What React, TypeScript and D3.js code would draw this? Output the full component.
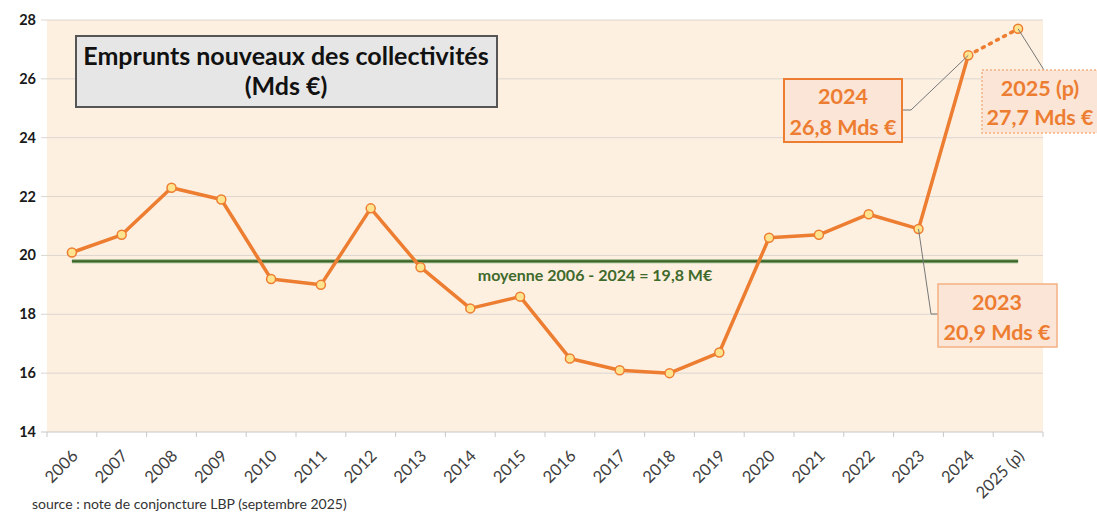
import React from 'react';
import * as d3 from 'd3';

const years = ['2006', '2007', '2008', '2009', '2010', '2011', '2012', '2013', '2014', '2015',
  '2016', '2017', '2018', '2019', '2020', '2021', '2022', '2023', '2024', '2025 (p)'];
const emprunts = [20.1, 20.7, 22.3, 21.9, 19.2, 19.0, 21.6, 19.6, 18.2, 18.6,
  16.5, 16.1, 16.0, 16.7, 20.6, 20.7, 21.4, 20.9, 26.8, 27.7];
const moyenne = 19.8;
const yTicks = [14, 16, 18, 20, 22, 24, 26, 28];

const W = 1097, H = 515;
const left = 47, right = 1043, top = 20, bottom = 432;
const orange = '#ed7d31';
const font = 'Lato, "Open Sans", sans-serif';

export default function App() {
  const x = d3.scaleBand().domain(years).range([left, right]);
  const y = d3.scaleLinear().domain([14, 28]).range([bottom, top]);
  const cx = (i: number) => (x(years[i]) as number) + x.bandwidth() / 2;

  const pts: [number, number][] = emprunts.map((v, i) => [cx(i), y(v)]);
  const line = d3.line();
  const solid = line(pts.slice(0, 19));
  const dotted = line(pts.slice(18));

  const p23 = pts[17], p24 = pts[18], p25 = pts[19];

  return (
    <svg width={W} height={H} style={{ position: 'absolute', left: 0, top: 0, background: '#fff' }}
      fontFamily={font}>
      <rect x={left} y={top} width={right - left} height={bottom - top} fill="#fdf0e1" />
      {yTicks.map(t => (
        <g key={t}>
          <line x1={left - 6} x2={right} y1={y(t)} y2={y(t)} stroke={t === 14 ? '#c8c8c8' : '#dcd6d0'} strokeWidth={1} />
          <text x={36} y={y(t) + 5} textAnchor="end" fontSize={14.5} fontWeight="bold" fill="#1a1a1a">{t}</text>
        </g>
      ))}
      {years.map((yr) => (
        <line key={yr} x1={x(yr) as number} x2={x(yr) as number} y1={bottom} y2={bottom + 5} stroke="#c8c8c8" />
      ))}
      <line x1={right} x2={right} y1={bottom} y2={bottom + 5} stroke="#c8c8c8" />
      {years.map((yr, i) => (
        <text key={yr} transform={`translate(${cx(i) + 7},${bottom + 25}) rotate(-45)`}
          textAnchor="end" fontSize={16.5} fill="#404040">{yr}</text>
      ))}

      {/* moyenne */}
      <line x1={cx(0)} x2={cx(19)} y1={y(moyenne)} y2={y(moyenne)} stroke="#8fae7d" strokeWidth={4} />
      <line x1={cx(0)} x2={cx(19)} y1={y(moyenne)} y2={y(moyenne)} stroke="#3b6528" strokeWidth={2} />
      <text x={595} y={y(moyenne) + 20} textAnchor="middle" fontSize={16} fontWeight="bold" fill="#3f6a2b">
        moyenne 2006 - 2024 = 19,8 M€
      </text>

      {/* series */}
      <path d={solid ?? ''} fill="none" stroke={orange} strokeWidth={3.5} strokeLinejoin="round" />
      <path d={dotted ?? ''} fill="none" stroke={orange} strokeWidth={3.5} strokeDasharray="2 6" strokeLinecap="round" />
      {pts.map(([px, py], i) => (
        <circle key={i} cx={px} cy={py} r={4.5} fill="#ffe48f" stroke={orange} strokeWidth={1.5} />
      ))}

      {/* title */}
      <rect x={76} y={36} width={421} height={71} fill="#e6e6e6" stroke="#555" strokeWidth={2} />
      <text x={286} y={65} textAnchor="middle" fontSize={25} fontWeight="bold" fill="#111">Emprunts nouveaux des collectivités</text>
      <text x={286} y={95} textAnchor="middle" fontSize={25} fontWeight="bold" fill="#111">(Mds €)</text>

      {/* callouts */}
      <polyline points={`${p24[0]},${p24[1]} 911,110 903,110`} fill="none" stroke="#777" strokeWidth={1} />
      <rect x={784} y={79} width={118} height={63} fill="#fbe5d6" stroke={orange} strokeWidth={2} />
      <text x={843} y={104} textAnchor="middle" fontSize={21.5} fontWeight="bold" fill={orange}>2024</text>
      <text x={843} y={135} textAnchor="middle" fontSize={21.5} fontWeight="bold" fill={orange}>26,8 Mds €</text>

      <line x1={p25[0]} y1={p25[1]} x2={1044} y2={70} stroke="#777" strokeWidth={1} />
      <rect x={982} y={70} width={125} height={63} fill="#fbe5d6" stroke="#f4b183" strokeWidth={1.5} strokeDasharray="2 2" />
      <text x={1040} y={96} textAnchor="middle" fontSize={21.5} fontWeight="bold" fill={orange}>2025 (p)</text>
      <text x={1040} y={125} textAnchor="middle" fontSize={21.5} fontWeight="bold" fill={orange}>27,7 Mds €</text>

      <polyline points={`${p23[0]},${p23[1]} 931,314 938,314`} fill="none" stroke="#777" strokeWidth={1} />
      <rect x={938} y={284} width={119} height={63} fill="#fbe5d6" stroke="#f4b183" strokeWidth={1.5} />
      <text x={997} y={310} textAnchor="middle" fontSize={21.5} fontWeight="bold" fill={orange}>2023</text>
      <text x={997} y={340} textAnchor="middle" fontSize={21.5} fontWeight="bold" fill={orange}>20,9 Mds €</text>

      <text x={32} y={509} fontSize={14} fill="#333">source : note de conjoncture LBP (septembre 2025)</text>
    </svg>
  );
}
